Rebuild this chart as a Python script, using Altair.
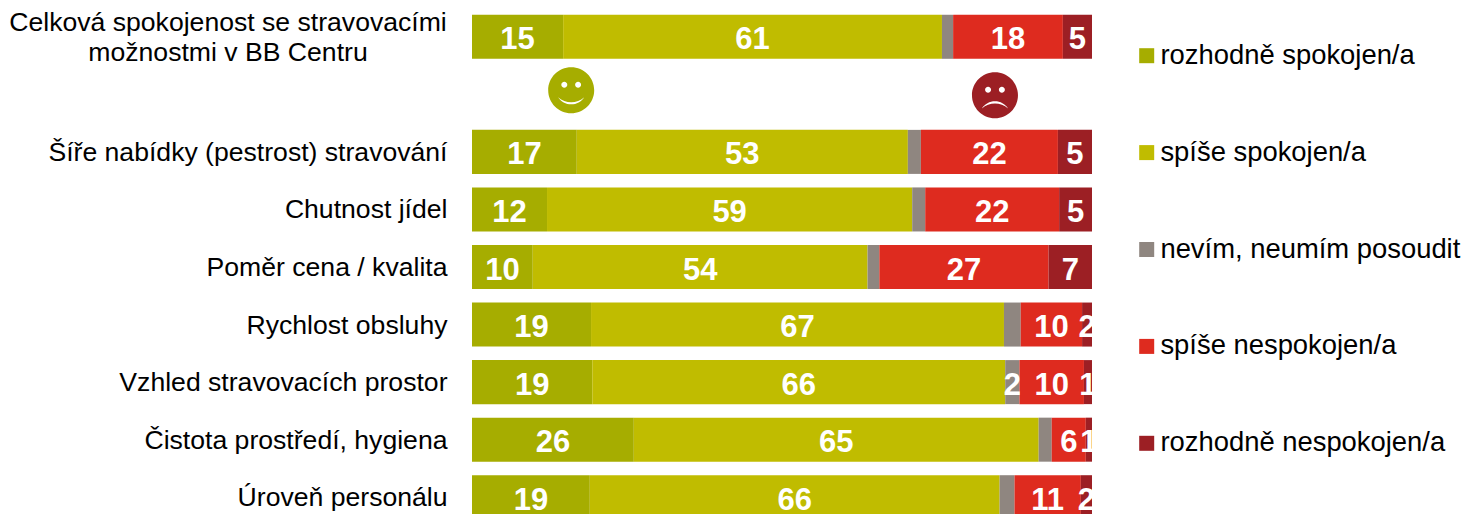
import altair as alt
import pandas as pd

FIRST = "Celková spokojenost se stravovacími možnostmi v BB Centru"
rows = [FIRST, " ", "Šíře nabídky (pestrost) stravování", "Chutnost jídel", "Poměr cena / kvalita",
        "Rychlost obsluhy", "Vzhled stravovacích prostor", "Čistota prostředí, hygiena", "Úroveň personálu"]
axis_rows = rows[2:]
first_lines = ["Celková spokojenost se stravovacími", "možnostmi v BB Centru"]
series = ["rozhodně spokojen/a", "spíše spokojen/a", "nevím, neumím posoudit", "spíše nespokojen/a", "rozhodně nespokojen/a"]
colors = ["#A6AD00", "#C0BC00", "#8F8680", "#DE2B1F", "#9C1F24"]

# bar lengths (share of the bar, %)
s1 = [14.7, 16.9, 12.1, 9.8, 19.2, 19.4, 26.1, 19.0]
s2 = [61.1, 53.4, 58.9, 54.0, 66.6, 66.6, 65.3, 66.1]
s3 = [1.8, 2.1, 2.1, 1.9, 2.7, 2.3, 2.1, 2.4]
s4 = [17.7, 22.1, 21.6, 27.3, 9.9, 10.4, 5.5, 10.7]
s5 = [4.7, 5.5, 5.3, 7.0, 1.6, 1.3, 1.0, 1.8]
# printed values (None = not printed)
l1 = [15, 17, 12, 10, 19, 19, 26, 19]
l2 = [61, 53, 59, 54, 67, 66, 65, 66]
l3 = [None, None, None, None, None, 2, None, None]
l4 = [18, 22, 22, 27, 10, 10, 6, 11]
l5 = [5, 5, 5, 7, 2, 1, 1, 2]

smile_x = [16.0]
frown_x = [84.35]

records = []
bar_rows = [rows[0]] + rows[2:]
for i, r in enumerate(bar_rows):
    start = 0.0
    for k, (sv, lv) in enumerate(zip([s1, s2, s3, s4, s5], [l1, l2, l3, l4, l5])):
        end = start + sv[i]
        records.append({"row": r, "serie": series[k], "start": start, "end": end,
                        "mid": (start + end) / 2, "label": "" if lv[i] is None else str(lv[i])})
        start = end
df = pd.DataFrame(records)

FONT = "Liberation Sans"
x_scale = alt.Scale(domain=[0, 100], nice=False, zero=False)
y_scale = alt.Scale(domain=rows, paddingInner=0.235, paddingOuter=0.1175)

bars = alt.Chart(df).mark_bar().encode(
    x=alt.X("start:Q", scale=x_scale, axis=None),
    x2="end:Q",
    y=alt.Y("row:N", scale=y_scale, title=None, sort=None,
            axis=alt.Axis(values=axis_rows, ticks=False, domain=False, labelPadding=25, labelLimit=460,
                          labelFontSize=26.6, labelFont=FONT, labelColor="#000000", grid=False, labelOffset=1)),
    color=alt.Color("serie:N", scale=alt.Scale(domain=series, range=colors),
                    legend=alt.Legend(title=None, orient="none", legendX=661, legendY=34, symbolType="square",
                                      symbolSize=225, symbolStrokeWidth=0, symbolOpacity=1, labelFontSize=27.4,
                                      labelFont=FONT, labelColor="#000000", labelLimit=340, labelOffset=0,
                                      rowPadding=67.9, padding=0)),
)

labels = alt.Chart(df).mark_text(font=FONT, fontWeight="bold", fontSize=31, color="white", baseline="middle", dy=3.5).encode(
    x=alt.X("mid:Q", scale=x_scale),
    y=alt.Y("row:N", scale=y_scale, sort=None),
    text="label:N",
)

title_first = alt.Chart(pd.DataFrame({"row": [rows[0]], "t": [first_lines]})).mark_text(
    font=FONT, fontSize=26.6, color="#000000", align="center", baseline="middle", lineHeight=30, dy=-14
).encode(x=alt.value(-244), y=alt.Y("row:N", scale=y_scale, sort=None), text="t")

SMILE = ("M-1,0A1,1 0 1,1 1,0A1,1 0 1,1 -1,0Z"
         "M-0.17,-0.24A0.13,0.13 0 1,0 -0.43,-0.24A0.13,0.13 0 1,0 -0.17,-0.24Z"
         "M0.43,-0.24A0.13,0.13 0 1,0 0.17,-0.24A0.13,0.13 0 1,0 0.43,-0.24Z"
         "M-0.57,0.30A0.68,0.68 0 0,0 0.57,0.30A0.85,0.85 0 0,1 -0.57,0.30Z")
FROWN = ("M-1,0A1,1 0 1,1 1,0A1,1 0 1,1 -1,0Z"
         "M-0.17,-0.24A0.13,0.13 0 1,0 -0.43,-0.24A0.13,0.13 0 1,0 -0.17,-0.24Z"
         "M0.43,-0.24A0.13,0.13 0 1,0 0.17,-0.24A0.13,0.13 0 1,0 0.43,-0.24Z"
         "M0.57,0.57A0.68,0.68 0 0,0 -0.57,0.57A0.85,0.85 0 0,1 0.57,0.57Z")

smile = alt.Chart(pd.DataFrame({"x": smile_x, "row": [" "]})).mark_point(
    shape=SMILE, size=2116, filled=True, opacity=1, color=colors[0], strokeWidth=0, yOffset=-4
).encode(x=alt.X("x:Q", scale=x_scale), y=alt.Y("row:N", scale=y_scale, sort=None))
frown = alt.Chart(pd.DataFrame({"x": frown_x, "row": [" "]})).mark_point(
    shape=FROWN, size=2116, filled=True, opacity=1, color=colors[4], strokeWidth=0, yOffset=1
).encode(x=alt.X("x:Q", scale=x_scale), y=alt.Y("row:N", scale=y_scale, sort=None))

chart = alt.layer(bars, labels, title_first, smile, frown).properties(
    width=620, height=518,
    autosize=alt.AutoSizeParams(type="none"),
    padding={"left": 464, "top": 0, "right": 370, "bottom": 0},
    background="white",
).configure_view(stroke=None)

chart.save("out.html", embed_options={"renderer": "svg", "actions": False})
